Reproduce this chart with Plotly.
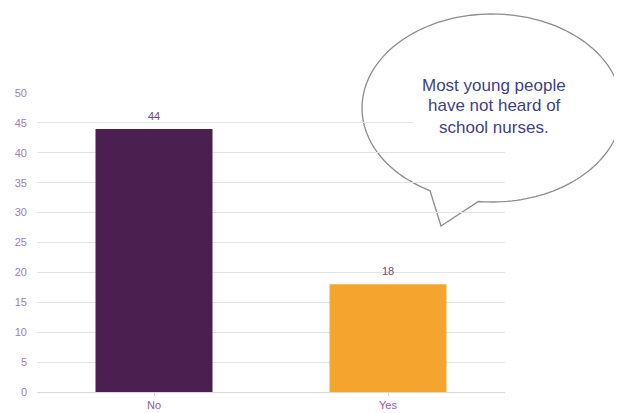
import numpy as np
import plotly.graph_objects as go

categories = ["No", "Yes"]
values = [44, 18]
bar_colors = ["#4b1f4f", "#f4a52e"]
y_ticks = [0, 5, 10, 15, 20, 25, 30, 35, 40, 45, 50]
callout_lines = ["Most young people", "have not heard of", "school nurses."]

OFF = 8  # page body margin offset
W, H = 622 - OFF, 413 - OFF
L, R, T = 37 - OFF, 622 - 505, 93 - OFF
B = H - (392 - OFF)
pw, ph = W - L - R, H - T - B

def px(x):
    return (x - OFF - L) / pw

def py(y):
    return (H - B - (y - OFF)) / ph

fig = go.Figure()
fig.add_trace(go.Bar(
    x=categories, y=values,
    marker=dict(color=bar_colors, line=dict(width=0)),
))
for c, v in zip(categories, values):
    fig.add_annotation(x=c, y=v, text=str(v), showarrow=False,
                       yanchor="bottom", yshift=5,
                       font=dict(family="Arial", size=11, color="#6e4a80"))

# speech bubble (outline drawn under gridlines, like a translucent callout)
cx, cy, rx, ry = 492, 108, 130, 94
a1, a2 = np.deg2rad(118.5), np.deg2rad(96 + 360)
ang = np.linspace(a1, a2, 160)
pts = [(cx + rx * np.cos(a), cy + ry * np.sin(a)) for a in ang]
tip = (441, 226)
path = "M " + " L ".join(f"{px(x):.5f},{py(y):.5f}" for x, y in pts)
path += f" L {px(tip[0]):.5f},{py(tip[1]):.5f} Z"
fig.add_shape(type="path", path=path, xref="paper", yref="paper",
              line=dict(color="#8c8c8c", width=1.3),
              fillcolor="white", layer="below")
# opaque highlight area of the bubble behind the text
fig.add_shape(type="rect", xref="paper", yref="paper",
              x0=px(413), x1=px(508), y0=py(80), y1=py(138),
              line=dict(width=0), fillcolor="white", layer="above")
for i, line in enumerate(callout_lines):
    fig.add_annotation(x=px(494), y=py(85 + 21 * i), xref="paper", yref="paper",
                       text=line, showarrow=False,
                       font=dict(family="Arial", size=17, color="#3f3f8c"),
                       xanchor="center", yanchor="middle")

fig.update_layout(
    width=W, height=H,
    margin=dict(l=L, r=R, t=T, b=B, pad=0, autoexpand=False),
    paper_bgcolor="white", plot_bgcolor="rgba(0,0,0,0)",
    bargap=0.5, showlegend=False,
    xaxis=dict(showgrid=False, showline=True, linecolor="#d9d9d9",
               ticks="outside", ticklen=3, tickcolor="#d9d9d9",
               automargin=False,
               tickfont=dict(family="Arial", size=11, color="#8e5aa8")),
    yaxis=dict(range=[0, 50], tickvals=y_ticks, showgrid=True,
               gridcolor="#e3e3e3", gridwidth=1, zeroline=False,
               ticklabelstandoff=9, automargin=False,
               tickfont=dict(family="Arial", size=11, color="#a27cc0")),
)

fig.write_html("out.html")
